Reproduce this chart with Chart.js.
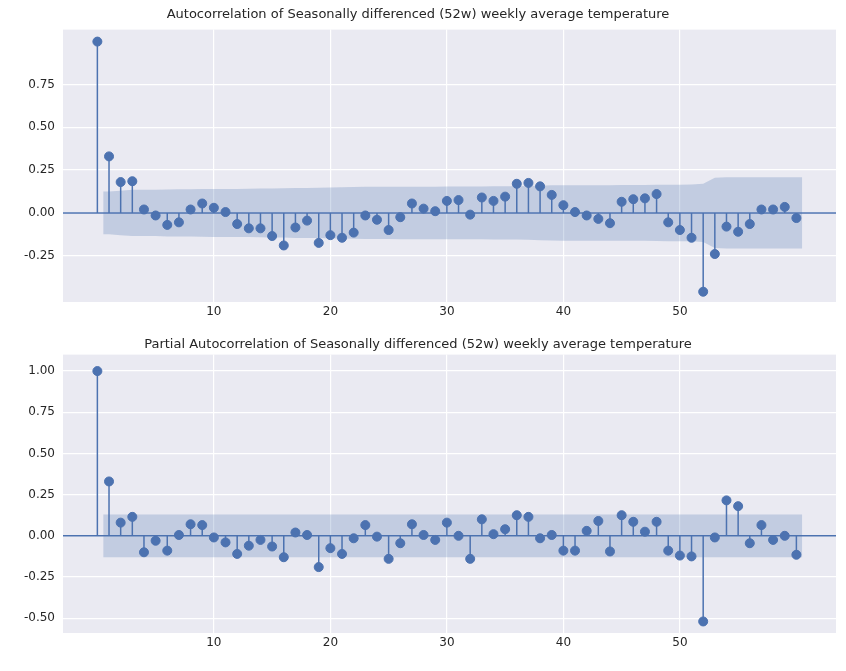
<!DOCTYPE html>
<html><head><meta charset="utf-8">
<script src="https://cdn.jsdelivr.net/npm/chart.js@4/dist/chart.umd.min.js"></script>
<style>body{margin:0;background:#fff}#a{width:846px;height:335px}#b{width:846px;height:336px}</style>
</head><body><div id="a"><canvas id="c1"></canvas></div><div id="b"><canvas id="c2"></canvas></div>
<script>
const acf=[1,0.33,0.18,0.185,0.02,-0.015,-0.07,-0.055,0.02,0.055,0.03,0.005,-0.065,-0.09,-0.09,-0.135,-0.19,-0.085,-0.045,-0.175,-0.13,-0.145,-0.115,-0.015,-0.04,-0.1,-0.025,0.055,0.025,0.01,0.07,0.075,-0.01,0.09,0.07,0.095,0.17,0.175,0.155,0.105,0.045,0.005,-0.015,-0.035,-0.06,0.065,0.08,0.085,0.11,-0.055,-0.1,-0.145,-0.46,-0.24,-0.08,-0.11,-0.065,0.02,0.02,0.035,-0.03];
const pacf=[1,0.33,0.08,0.115,-0.1,-0.03,-0.09,0.005,0.07,0.065,-0.01,-0.04,-0.11,-0.06,-0.025,-0.065,-0.13,0.02,0.005,-0.19,-0.075,-0.11,-0.015,0.065,-0.005,-0.14,-0.045,0.07,0.005,-0.025,0.08,0.0,-0.14,0.10,0.01,0.04,0.125,0.115,-0.015,0.005,-0.09,-0.09,0.03,0.09,-0.095,0.125,0.085,0.025,0.085,-0.09,-0.12,-0.125,-0.52,-0.01,0.215,0.18,-0.045,0.065,-0.025,0.0,-0.115];
// confidence band half-width per lag 1..60
const acfBand=[0.125,0.13,0.135,0.135,0.135,0.137,0.138,0.138,0.139,0.14,0.14,0.14,0.141,0.142,0.143,0.144,0.146,0.146,0.147,0.149,0.15,0.151,0.152,0.152,0.152,0.153,0.153,0.153,0.153,0.154,0.154,0.154,0.154,0.155,0.155,0.155,0.157,0.159,0.161,0.162,0.162,0.162,0.162,0.162,0.163,0.163,0.163,0.164,0.165,0.165,0.166,0.17,0.205,0.208,0.208,0.208,0.208,0.208,0.208,0.208];
const pacfBand=new Array(60).fill(0.13);
const titles=["Autocorrelation of Seasonally differenced (52w) weekly average temperature","Partial Autocorrelation of Seasonally differenced (52w) weekly average temperature"];
const C='#4c72b0',F='DejaVu Sans';
function make(id,vals,band,title,ymin,ymax,tp){
  const stems=[];vals.forEach((v,i)=>{stems.push({x:i,y:0},{x:i,y:v},{x:i,y:NaN});});
  const pts=vals.map((v,i)=>({x:i,y:v}));
  const up=[],lo=[];band.forEach((b,i)=>{const l=i+1;up.push({x:l,y:b});lo.push({x:l,y:-b});});
  up.unshift({x:0.5,y:band[0]});lo.unshift({x:0.5,y:-band[0]});
  up.push({x:60.5,y:band[59]});lo.push({x:60.5,y:-band[59]});
  new Chart(document.getElementById(id),{type:'scatter',data:{datasets:[
    {type:'line',data:up,borderWidth:0,pointRadius:0,fill:'+1',backgroundColor:'rgba(76,114,176,0.25)',order:5},
    {type:'line',data:lo,borderWidth:0,pointRadius:0,fill:false,order:5},
    {type:'line',data:[{x:-2.95,y:0},{x:63.4,y:0}],borderColor:C,borderWidth:1.5,pointRadius:0,order:3},
    {type:'line',data:stems,borderColor:C,borderWidth:1.5,pointRadius:0,spanGaps:false,order:2},
    {data:pts,backgroundColor:C,borderColor:C,pointRadius:4.5,order:1}
  ]},options:{animation:false,responsive:true,maintainAspectRatio:false,
    layout:{padding:{right:10,bottom:tp.b}},
    plugins:{legend:{display:false},tooltip:{enabled:false},
      title:{display:true,text:title,color:'#262626',font:{family:F,size:13,weight:'normal'},padding:{top:tp.t,bottom:tp.tb}}},
    scales:{
      x:{type:'linear',min:-2.95,max:63.4,ticks:{stepSize:10,color:'#262626',font:{family:F,size:12}},
        afterBuildTicks:s=>{s.ticks=s.ticks.filter(t=>Math.abs(t.value/10-Math.round(t.value/10))<1e-6);},
        afterFit:s=>{s.height=33;},
        grid:{color:'#fff',lineWidth:1.2,drawTicks:false},border:{display:false}},
      y:{min:ymin,max:ymax,ticks:{stepSize:0.25,color:'#262626',font:{family:F,size:12},padding:8,callback:v=>v.toFixed(2)},
        afterBuildTicks:s=>{s.ticks=s.ticks.filter(t=>Math.abs(t.value*4-Math.round(t.value*4))<1e-6);},
        afterFit:s=>{s.width=63;},
        grid:{color:'#fff',lineWidth:1.2,drawTicks:false},border:{display:false}}
    }},
    plugins:[{id:'bg',beforeDraw(c){const a=c.chartArea,x=c.ctx;x.save();x.fillStyle='#eaeaf2';x.fillRect(a.left,a.top,a.width,a.height);x.restore();}}]
  });
}
make('c1',acf,acfBand,titles[0],-0.52,1.07,{t:7,tb:7,b:0});
make('c2',pacf,pacfBand,titles[1],-0.59,1.10,{t:2,tb:2,b:5});
</script></body></html>
